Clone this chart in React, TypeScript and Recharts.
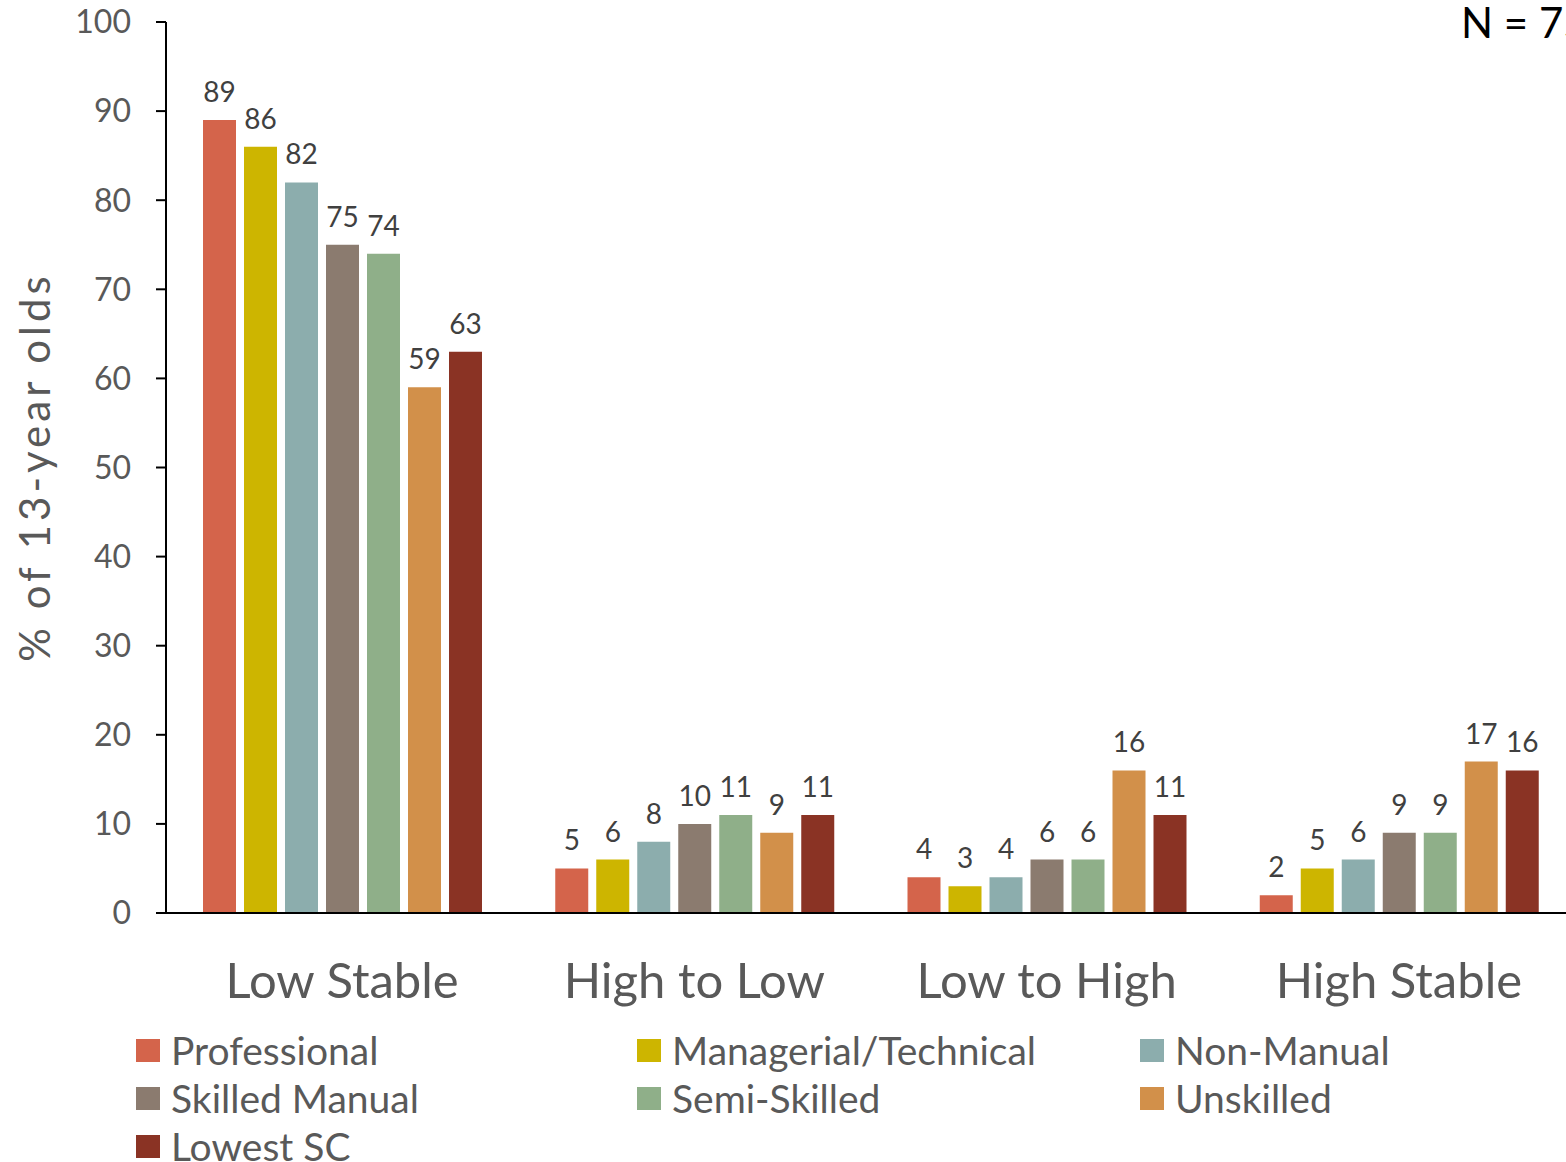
import React from 'react';
import { BarChart, Bar, XAxis, YAxis, LabelList } from 'recharts';

const categories = ['Low Stable', 'High to Low', 'Low to High', 'High Stable'];
const seriesNames = ['Professional', 'Managerial/Technical', 'Non-Manual', 'Skilled Manual', 'Semi-Skilled', 'Unskilled', 'Lowest SC'];
const seriesColors = ['#D4644B', '#CDB500', '#8CADAD', '#8B7B6F', '#8FAF89', '#D2904A', '#8A3324'];

const professional = [89, 5, 4, 2];
const managerial = [86, 6, 3, 5];
const nonManual = [82, 8, 4, 6];
const skilledManual = [75, 10, 6, 9];
const semiSkilled = [74, 11, 6, 9];
const unskilled = [59, 9, 16, 17];
const lowestSC = [63, 11, 11, 16];

const yTicks = [0, 10, 20, 30, 40, 50, 60, 70, 80, 90, 100];
const yTitle = '% of 13-year olds';
const nLabel = 'N = 75';

const seriesValues = [professional, managerial, nonManual, skilledManual, semiSkilled, unskilled, lowestSC];
const keys = seriesNames.map((_, i) => 's' + i);
const data = categories.map((c, ci) => {
  const row: Record<string, any> = { category: c };
  seriesValues.forEach((vals, si) => { row[keys[si]] = vals[ci]; });
  return row;
});

const FONT = 'Lato, "Open Sans", sans-serif';

if (typeof document !== 'undefined') {
  document.body.style.margin = '0';
  document.body.style.overflow = 'hidden';
}

export default function App() {
  return (
    <div style={{ position: 'relative', width: 1566, height: 1162, overflow: 'hidden', background: '#fff', fontFamily: FONT }}>
      <BarChart
        width={1600}
        height={1162}
        data={data}
        margin={{ top: 22, right: 25, bottom: 149, left: 0 }}
        barSize={33}
        barGap={8}
      >
        <YAxis
          width={166}
          domain={[0, 100]}
          ticks={yTicks}
          interval={0}
          axisLine={{ stroke: '#000', strokeWidth: 2 }}
          tickLine={{ stroke: '#000', strokeWidth: 2 }}
          tickSize={10}
          tickMargin={25}
          tick={{ fill: '#595959', fontSize: 32, fontFamily: FONT }}
          label={{
            content: () => (
              <text x={50} y={467} transform="rotate(-90 50 467)" textAnchor="middle" fill="#595959" fontSize={42} letterSpacing={4} fontFamily={FONT}>
                {yTitle}
              </text>
            ),
          }}
        />
        <XAxis
          dataKey="category"
          height={100}
          axisLine={{ stroke: '#000', strokeWidth: 2 }}
          tickLine={false}
          tickSize={0}
          tickMargin={50}
          tick={{ fill: '#595959', fontSize: 49, fontFamily: FONT }}
          interval={0}
        />
        {keys.map((k, i) => (
          <Bar key={k} dataKey={k} name={seriesNames[i]} fill={seriesColors[i]} isAnimationActive={false}>
            <LabelList dataKey={k} position="top" offset={18} fill="#404040" fontSize={28} fontFamily={FONT} />
          </Bar>
        ))}
      </BarChart>
      <svg width={1566} height={1162} style={{ position: 'absolute', left: 0, top: 0, pointerEvents: 'none' }}>
        <text x={1461} y={38} fill="#000" fontSize={42} fontFamily={FONT}>{nLabel}</text>
      </svg>
      {seriesNames.map((name, i) => {
        const col = i % 3;
        const row = Math.floor(i / 3);
        const colX = [136, 637, 1140][col];
        const cy = 1050 + row * 48;
        return (
          <div key={name} style={{ position: 'absolute', left: colX, top: cy - 16, height: 32, display: 'flex', alignItems: 'center' }}>
            <div style={{ width: 24, height: 23, background: seriesColors[i], marginRight: 11 }} />
            <span style={{ fontSize: 39, color: '#595959', fontFamily: FONT, lineHeight: '32px', whiteSpace: 'nowrap' }}>{name}</span>
          </div>
        );
      })}
    </div>
  );
}
